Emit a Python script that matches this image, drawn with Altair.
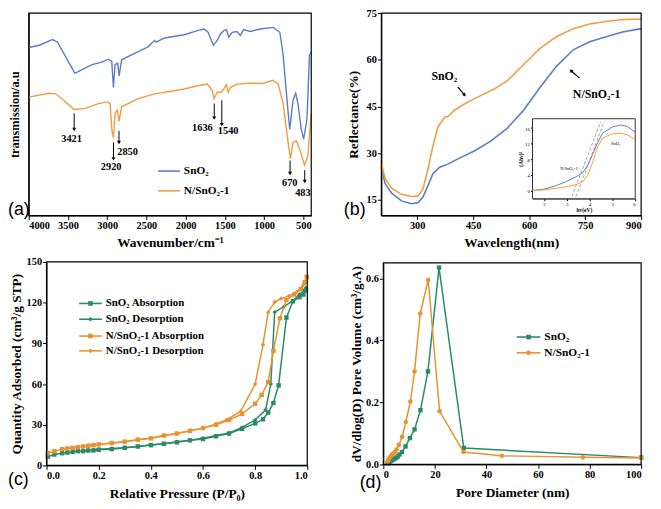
import altair as alt
import pandas as pd

SERIF = "Liberation Serif"
SANS = "Liberation Sans"
BLUE = "#5b7ec2"
ORANGE = "#f39c3f"
GREEN = "#2a8a6a"
ORANGE2 = "#e8932f"
W, H = 653, 501

# ---------------- (a) FTIR ----------------
a_wn_sno2 = [4000, 3866, 3698, 3635, 3530, 3412, 3320, 3194, 3068, 2984, 2942, 2921, 2900, 2866, 2849, 2816, 2690,
             2480, 2396, 2375, 2270, 2018, 1850, 1766, 1715, 1648, 1598, 1556, 1514, 1480, 1451, 1409, 1346, 1304,
             1262, 1178, 1052, 884, 800, 758, 716, 674, 632, 598, 569, 527, 497, 455, 422, 400]
a_t_sno2 = [83.0, 84.1, 86.9, 85.7, 78.5, 70.2, 72.1, 74.5, 75.8, 77.2, 76.1, 63.3, 74.5, 75.3, 68.9, 76.9, 79.3,
            83.3, 86.5, 85.6, 87.7, 89.3, 91.3, 92.1, 90.5, 84.1, 86.5, 89.7, 91.3, 91.8, 88.1, 90.5, 90.9, 88.9,
            91.8, 90.9, 92.1, 92.9, 90.5, 79.3, 60.1, 42.5, 56.9, 60.4, 55.3, 42.5, 37.7, 47.3, 79.3, 80.9]
a_wn_n = [4000, 3740, 3656, 3530, 3425, 3278, 3110, 3005, 2963, 2942, 2921, 2900, 2870, 2849, 2816, 2606, 2396,
          2186, 2018, 1850, 1724, 1661, 1640, 1598, 1547, 1514, 1480, 1459, 1430, 1346, 1178, 1010, 892, 821, 758,
          695, 665, 632, 590, 548, 485, 443, 400]
a_t_n = [58.5, 60.4, 60.1, 56.1, 52.4, 52.9, 55.3, 56.1, 55.3, 42.5, 38.5, 50.5, 52.1, 46.5, 53.7, 57.7, 60.1,
         61.4, 62.5, 64.1, 64.9, 61.7, 57.7, 60.9, 60.9, 62.5, 64.6, 60.9, 63.3, 64.9, 65.4, 65.2, 66.8, 64.9, 55.3,
         36.1, 28.0, 36.1, 36.9, 32.9, 24.8, 29.6, 50.5]
peak_wn = [3421, 2920, 2850, 1636, 1540, 670, 483]
peak_top = [50.5, 36.1, 41.7, 55.3, 56.9, 27.2, 22.4]
peak_bot = [42.5, 28.0, 36.1, 48.1, 44.9, 20.8, 16.8]
peak_lab_x = [3454, 2950, 2740, 1787, 1459, 674, 506]
peak_lab_y = [37.7, 24.0, 31.3, 43.3, 41.7, 16.0, 11.0]
peak_lab = ["3421", "2920", "2850", "1636", "1540", "670", "483"]

# ---------------- (b) DRS ----------------
b_wl_o = [204, 214, 232, 258, 285, 303, 316, 329, 342, 356, 369, 375, 382, 400, 435, 470, 506, 541, 585, 629,
          673, 718, 762, 806, 850, 900]
b_r_o = [27.0, 21.8, 18.7, 16.8, 16.1, 16.3, 18.7, 25.0, 32.3, 38.6, 40.7, 41.7, 41.7, 43.8, 46.4, 48.5, 50.6,
         53.2, 58.5, 63.7, 67.4, 70.0, 71.5, 72.3, 72.9, 73.1]
b_wl_b = [204, 214, 232, 258, 285, 303, 316, 329, 342, 360, 382, 408, 453, 497, 541, 585, 629, 673, 718, 762,
          806, 850, 900]
b_r_b = [25.5, 20.2, 17.1, 14.7, 13.8, 14.2, 16.1, 19.7, 23.4, 25.5, 26.5, 28.1, 30.7, 33.9, 38.0, 43.8, 51.1,
         57.9, 63.2, 65.8, 67.4, 68.9, 70.0]
ins_hv = [1.5, 2.0, 2.54, 3.0, 3.41, 3.70, 3.91, 4.13, 4.35, 4.57, 5.0, 5.36, 5.65, 6.0]
ins_blue = [0, 0.34, 1.26, 2.36, 3.54, 4.63, 6.3, 9.26, 12.2, 14.7, 16.3, 16.8, 16.4, 15.0]
ins_orange = [0, 0.17, 0.59, 1.0, 1.5, 2.27, 3.8, 7.2, 11.1, 13.5, 14.5, 14.7, 14.3, 13.0]
tan_id = [1, 1, 2, 2]
tan_hv = [3.23, 4.49, 3.41, 4.64]
tan_a = [-1.5, 17.7, -1.5, 17.7]

# ---------------- (c) BET ----------------
c_ads_p_s = [0.005, 0.03, 0.06, 0.08, 0.10, 0.12, 0.14, 0.16, 0.18, 0.20, 0.25, 0.30, 0.35, 0.40, 0.45, 0.50,
             0.55, 0.60, 0.65, 0.70, 0.75, 0.80, 0.83, 0.85, 0.87, 0.89, 0.92, 0.945, 0.97, 0.985, 0.995]
c_ads_q_s = [6.5, 8, 9, 9.5, 10, 10.5, 10.5, 11, 11, 11.5, 12, 13, 14, 15, 16, 17, 18.5, 19.5, 21.5, 23.5, 27,
             31, 34, 39, 46, 59, 109, 121, 124, 126, 129]
c_des_p_s = [0.995, 0.985, 0.97, 0.945, 0.91, 0.875, 0.86, 0.84, 0.80, 0.75, 0.70, 0.65, 0.60, 0.55, 0.50, 0.45,
             0.40, 0.35, 0.30, 0.25, 0.20, 0.18, 0.16, 0.14]
c_des_q_s = [131, 129, 126, 121.5, 117, 113, 60, 41, 33.5, 28, 24, 22, 20, 18.5, 17.5, 16, 15, 14, 13, 12.5, 12,
             11.5, 11, 11]
c_ads_p_n = [0.005, 0.03, 0.06, 0.08, 0.10, 0.12, 0.14, 0.16, 0.18, 0.20, 0.25, 0.30, 0.35, 0.40, 0.45, 0.50,
             0.55, 0.60, 0.65, 0.70, 0.75, 0.80, 0.825, 0.85, 0.87, 0.895, 0.92, 0.95, 0.975, 0.99, 0.998]
c_ads_q_n = [9, 10.5, 12, 12.5, 13, 13.5, 14, 14.5, 15, 15.5, 16.5, 17.5, 19, 20, 22, 23.5, 25.5, 27.5, 30, 33.5,
             38, 45.5, 52, 61.5, 84.5, 108.5, 122, 126, 130, 135, 139]
c_des_p_n = [0.998, 0.985, 0.96, 0.93, 0.90, 0.875, 0.85, 0.83, 0.80, 0.745, 0.69, 0.65, 0.60, 0.55, 0.50, 0.45,
             0.40, 0.35, 0.30, 0.25, 0.20, 0.18, 0.16, 0.14]
c_des_q_n = [139, 133, 128, 125, 123, 120.5, 113, 89, 60, 40, 33.5, 30.5, 27.5, 25.5, 23.5, 22, 20, 19, 17.5,
             16.5, 15.5, 15, 14.5, 14]

# ---------------- (d) pore size ----------------
d_d_s = [1.6, 2.0, 2.4, 2.8, 3.2, 3.6, 4.0, 4.5, 5.0, 5.6, 6.3, 7.2, 8.6, 10.3, 12.1, 14.4, 17.3, 21.6, 31.2, 100]
d_v_s = [0.003, 0.006, 0.009, 0.011, 0.013, 0.015, 0.017, 0.019, 0.022, 0.026, 0.032, 0.040, 0.058, 0.085, 0.113,
         0.175, 0.300, 0.635, 0.053, 0.022]
d_d_n = [1.6, 1.9, 2.3, 2.7, 3.2, 3.8, 4.5, 5.1, 6.0, 7.3, 8.7, 10.5, 12.1, 14.3, 17.4, 21.8, 31.1, 46.0, 77.4, 100]
d_v_n = [0.008, 0.015, 0.020, 0.025, 0.030, 0.035, 0.040, 0.048, 0.063, 0.089, 0.137, 0.203, 0.300, 0.487, 0.595,
         0.172, 0.040, 0.028, 0.023, 0.021]


def one(label):
    return alt.Chart(pd.DataFrame({"label": [label]}))


def legend_entry(x0, x1, y, color, label, shape=None, fs=11.5):
    base = one(label)
    layers = [base.mark_rule(color=color, strokeWidth=1.6).encode(
        x=alt.value(x0), x2=alt.value(x1), y=alt.value(y))]
    if shape:
        layers.append(base.mark_point(shape=shape, filled=True, color=color, size=22, opacity=1).encode(
            x=alt.value((x0 + x1) / 2), y=alt.value(y)))
    layers.append(base.mark_text(font=SERIF, fontWeight="bold", fontSize=fs, align="left", baseline="middle",
                                 color="black").encode(x=alt.value(x1 + 4), y=alt.value(y), text="label:N"))
    return layers


def panel_label(text, x, y):
    return one(text).mark_text(font=SANS, fontSize=18, align="left", baseline="middle", color="black").encode(
        x=alt.value(x), y=alt.value(y), text="label:N")


def encoders(sx, ax, sy, ay):
    def X(f):
        return alt.X(f + ":Q", scale=sx, axis=ax)

    def Y(f):
        return alt.Y(f + ":Q", scale=sy, axis=ay)
    return X, Y


def frame(X, Y, fx, x1, x2, fy, y1, y2, fill=None):
    df = pd.DataFrame({fx: [x1], fx + "2": [x2], fy: [y1], fy + "2": [y2]})
    if fill:
        m = alt.Chart(df).mark_rect(fill=fill, stroke="black", strokeWidth=0.8)
    else:
        m = alt.Chart(df).mark_rect(fillOpacity=0, stroke="black", strokeWidth=1.2)
    return m.encode(x=X(fx), x2=fx + "2:Q", y=Y(fy), y2=fy + "2:Q")


# ---------- panel (a): plot x 21..307, y 2..207
XA, YA = encoders(
    alt.Scale(domain=[400, 4000], range=[307, 21], nice=False, zero=False),
    alt.Axis(orient="bottom", offset=207 - H, values=[500, 1000, 1500, 2000, 2500, 3000, 3500, 4000], format="d",
             title="Wavenumber/cm⁻¹", titlePadding=5),
    alt.Scale(domain=[0, 100], range=[207, 2], nice=False),
    alt.Axis(orient="left", offset=-21, labels=False, ticks=False, title="transmission/a.u", titlePadding=7,
             titleFontSize=12.5))
df_a1 = pd.DataFrame({"wn": a_wn_sno2, "t": a_t_sno2})
df_a2 = pd.DataFrame({"wn": a_wn_n, "t": a_t_n})
df_pk = pd.DataFrame({"wn": peak_wn, "t": peak_top, "t2": peak_bot})
df_pl = pd.DataFrame({"wn": peak_lab_x, "t": peak_lab_y, "label": peak_lab})
ga = [
    alt.Chart(df_a1).mark_line(color=BLUE, strokeWidth=1.4).encode(x=XA("wn"), y=YA("t")),
    alt.Chart(df_a2).mark_line(color=ORANGE, strokeWidth=1.4).encode(x=XA("wn"), y=YA("t")),
    alt.Chart(df_pk).mark_rule(color="black", strokeWidth=1).encode(x=XA("wn"), y=YA("t"), y2="t2:Q"),
    alt.Chart(df_pk).mark_point(shape="triangle-down", filled=True, color="black", size=16, opacity=1).encode(
        x=XA("wn"), y=YA("t2")),
    alt.Chart(df_pl).mark_text(font=SERIF, fontWeight="bold", fontSize=10.5, color="black").encode(
        x=XA("wn"), y=YA("t"), text="label:N"),
    frame(XA, YA, "wn", 400, 4000, "t", 0, 100),
]
ga += legend_entry(152, 174, 162, BLUE, "SnO₂")
ga += legend_entry(152, 174, 182, ORANGE, "N/SnO₂-1")
ga.append(panel_label("(a)", 0, 201))
group_a = alt.layer(*ga)

# ---------- panel (b): plot x 378..641, y 2..207
XB, YB = encoders(
    alt.Scale(domain=[204, 900], range=[378, 641], nice=False, zero=False),
    alt.Axis(orient="bottom", offset=207 - H, values=[300, 450, 600, 750, 900], title="Wavelength(nm)",
             titlePadding=5),
    alt.Scale(domain=[10, 75], range=[207, 2], nice=False, zero=False),
    alt.Axis(orient="left", offset=-378, values=[15, 30, 45, 60, 75], title="Reflectance(%)", titlePadding=6))
df_bo = pd.DataFrame({"wl": b_wl_o, "r": b_r_o})
df_bb = pd.DataFrame({"wl": b_wl_b, "r": b_r_b})
df_barrow = pd.DataFrame({"wl": [408.5, 735], "r": [51.3, 54.1], "wl2": [426, 713], "r2": [48.8, 56.4],
                          "ang": [140, 311]})
df_btxt = pd.DataFrame({"wl": [338, 717], "r": [54.8, 49.0], "label": ["SnO₂", "N/SnO₂-1"]})
group_b = alt.layer(
    alt.Chart(df_bb).mark_line(color=BLUE, strokeWidth=1.6).encode(x=XB("wl"), y=YB("r")),
    alt.Chart(df_bo).mark_line(color=ORANGE, strokeWidth=1.6).encode(x=XB("wl"), y=YB("r")),
    alt.Chart(df_barrow).mark_rule(color="black", strokeWidth=1.2).encode(
        x=XB("wl"), y=YB("r"), x2="wl2:Q", y2="r2:Q"),
    alt.Chart(df_barrow).mark_point(shape="triangle", filled=True, color="black", size=16, opacity=1).encode(
        x=XB("wl2"), y=YB("r2"), angle=alt.Angle("ang:Q", scale=None)),
    alt.Chart(df_btxt).mark_text(font=SERIF, fontWeight="bold", fontSize=12, align="left", baseline="middle",
                                 color="black").encode(x=XB("wl"), y=YB("r"), text="label:N"),
    frame(XB, YB, "wl", 204, 900, "r", 10, 75),
    panel_label("(b)", 340, 201),
)

# ---------- inset of (b): x 531..635, y 109..190
XI, YI = encoders(
    alt.Scale(domain=[1.5, 6], range=[531, 635], nice=False, zero=False),
    alt.Axis(orient="bottom", offset=190 - H, values=[2, 3, 4, 5, 6], labelFontSize=5, labelFontWeight="normal",
             tickSize=2, labelPadding=1, title="hv(eV)", titleFontSize=5.5, titlePadding=1, domainWidth=0.6),
    alt.Scale(domain=[-2.1, 18.4], range=[190, 109], nice=False, zero=False),
    alt.Axis(orient="left", offset=-531, values=[0, 4, 8, 12, 16], labelFontSize=5, labelFontWeight="normal",
             tickSize=2, labelPadding=1, title="(Ahv)²", titleFontSize=5.5, titlePadding=1, domainWidth=0.6))
df_ib = pd.DataFrame({"hv": ins_hv, "A": ins_blue})
df_io = pd.DataFrame({"hv": ins_hv, "A": ins_orange})
df_tan = pd.DataFrame({"id": tan_id, "hv": tan_hv, "A": tan_a})
df_itxt = pd.DataFrame({"hv": [3.1, 5.15], "A": [5.6, 11.8], "label": ["N/SnO₂-1", "SnO₂"]})
group_i = alt.layer(
    frame(XI, YI, "hv", 1.5, 6.0, "A", -2.1, 18.4, fill="white"),
    alt.Chart(df_tan).mark_line(color="#777777", strokeWidth=0.7, strokeDash=[3, 2]).encode(
        x=XI("hv"), y=YI("A"), detail="id:N"),
    alt.Chart(df_ib).mark_line(color=BLUE, strokeWidth=1).encode(x=XI("hv"), y=YI("A")),
    alt.Chart(df_io).mark_line(color=ORANGE, strokeWidth=1).encode(x=XI("hv"), y=YI("A")),
    alt.Chart(df_itxt).mark_text(font=SERIF, fontSize=4.5, color="black").encode(
        x=XI("hv"), y=YI("A"), text="label:N"),
)

# ---------- panel (c): plot x 39..303, y 254..460
XC, YC = encoders(
    alt.Scale(domain=[0, 1], range=[39, 303], nice=False, zero=False),
    alt.Axis(orient="bottom", offset=460 - H, values=[0, 0.2, 0.4, 0.6, 0.8, 1.0], format=".1f",
             title="Relative Pressure (P/P₀)", titlePadding=6),
    alt.Scale(domain=[0, 150], range=[460, 254], nice=False),
    alt.Axis(orient="left", offset=-39, values=[0, 30, 60, 90, 120, 150], title="Quantity Adsorbed (cm³/g STP)",
             titlePadding=3))


def iso(p, q, color, shape):
    df = pd.DataFrame({"p": p, "q": q, "i": list(range(len(p)))})
    return [alt.Chart(df).mark_line(color=color, strokeWidth=1.5).encode(x=XC("p"), y=YC("q"), order="i:Q"),
            alt.Chart(df).mark_point(shape=shape, filled=True, color=color, size=20, opacity=1).encode(
                x=XC("p"), y=YC("q"))]


gc = []
gc += iso(c_ads_p_s, c_ads_q_s, GREEN, "square")
gc += iso(c_des_p_s, c_des_q_s, GREEN, "diamond")
gc += iso(c_ads_p_n, c_ads_q_n, ORANGE2, "square")
gc += iso(c_des_p_n, c_des_q_n, ORANGE2, "diamond")
gc.append(frame(XC, YC, "p", 0, 1, "q", 0, 150))
gc += legend_entry(72, 95, 296, GREEN, "SnO₂  Absorption", "square", 11)
gc += legend_entry(72, 95, 312, GREEN, "SnO₂  Desorption", "diamond", 11)
gc += legend_entry(72, 95, 329, ORANGE2, "N/SnO₂-1  Absorption", "square", 11)
gc += legend_entry(72, 95, 344, ORANGE2, "N/SnO₂-1  Desorption", "diamond", 11)
gc.append(panel_label("(c)", 0, 475))
group_c = alt.layer(*gc)

# ---------- panel (d): plot x 380..641, y 255..459
XD, YD = encoders(
    alt.Scale(domain=[0, 100], range=[380, 641], nice=False, zero=False),
    alt.Axis(orient="bottom", offset=459 - H, values=[0, 20, 40, 60, 80, 100], title="Pore Diameter (nm)",
             titlePadding=6),
    alt.Scale(domain=[0, 0.65], range=[459, 255], nice=False),
    alt.Axis(orient="left", offset=-380, values=[0, 0.2, 0.4, 0.6], format=".1f",
             title="dV/dlog(D) Pore Volume (cm³/g.A)", titlePadding=2))
df_ds = pd.DataFrame({"d": d_d_s, "v": d_v_s})
df_dn = pd.DataFrame({"d": d_d_n, "v": d_v_n})
gd = [
    alt.Chart(df_ds).mark_line(color=GREEN, strokeWidth=1.5).encode(x=XD("d"), y=YD("v")),
    alt.Chart(df_ds).mark_point(shape="square", filled=True, color=GREEN, size=20, opacity=1).encode(
        x=XD("d"), y=YD("v")),
    alt.Chart(df_dn).mark_line(color=ORANGE2, strokeWidth=1.5).encode(x=XD("d"), y=YD("v")),
    alt.Chart(df_dn).mark_point(shape="circle", filled=True, color=ORANGE2, size=22, opacity=1).encode(
        x=XD("d"), y=YD("v")),
    frame(XD, YD, "d", 0, 100, "v", 0, 0.65),
]
gd += legend_entry(515, 539, 330, GREEN, "SnO₂", "square", 11.5)
gd += legend_entry(515, 539, 346, ORANGE2, "N/SnO₂-1", "circle", 11.5)
gd.append(panel_label("(d)", 356, 478))
group_d = alt.layer(*gd)

chart = alt.layer(group_a, group_b, group_i, group_c, group_d).resolve_scale(
    x="independent", y="independent"
).properties(
    width=W, height=H, padding=0, autosize=alt.AutoSizeParams(type="none")
).configure_axis(
    labelFont=SERIF, labelFontWeight="bold", labelFontSize=10.5, labelColor="black",
    titleFont=SERIF, titleFontWeight="bold", titleFontSize=13.5, titleColor="black",
    domainColor="black", tickColor="black", grid=False, minExtent=0, tickSize=4, labelPadding=1
).configure_view(strokeWidth=0)

chart.save("out.html", embed_options={"renderer": "svg", "actions": False})
